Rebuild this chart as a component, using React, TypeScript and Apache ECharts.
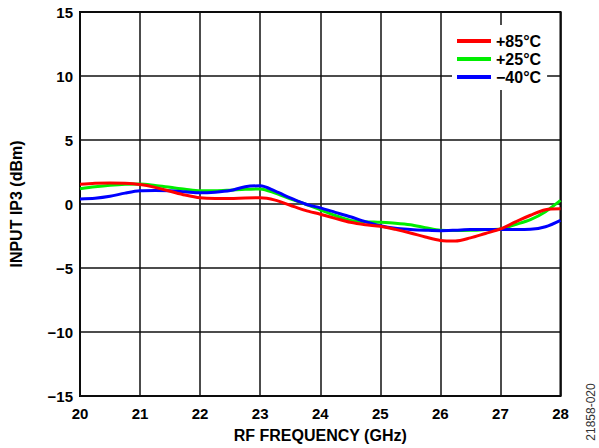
import React, { useEffect, useRef } from "react";
import * as echarts from "echarts";

const freqs = [20, 20.25, 20.5, 20.75, 21, 21.25, 21.5, 21.75, 22, 22.25, 22.5, 22.75, 23, 23.25, 23.5, 23.75, 24, 24.25, 24.5, 24.75, 25, 25.25, 25.5, 25.75, 26, 26.25, 26.5, 26.75, 27, 27.25, 27.5, 27.75, 28];

const red85 = [1.55, 1.63, 1.65, 1.62, 1.52, 1.3, 1.0, 0.7, 0.48, 0.43, 0.43, 0.47, 0.48, 0.3, -0.1, -0.5, -0.8, -1.12, -1.43, -1.62, -1.74, -1.98, -2.26, -2.58, -2.85, -2.9, -2.65, -2.3, -1.95, -1.4, -0.88, -0.45, -0.37];
const green25 = [1.2, 1.35, 1.47, 1.55, 1.57, 1.45, 1.3, 1.15, 1.03, 1.03, 1.08, 1.15, 1.18, 0.85, 0.4, 0.0, -0.45, -0.9, -1.28, -1.38, -1.43, -1.5, -1.62, -1.85, -2.06, -2.08, -2.06, -2.0, -1.95, -1.6, -1.22, -0.6, 0.28];
const blue40 = [0.4, 0.45, 0.6, 0.85, 1.03, 1.05, 1.03, 0.95, 0.87, 0.92, 1.05, 1.35, 1.42, 1.0, 0.48, 0.0, -0.3, -0.65, -1.0, -1.38, -1.7, -1.9, -1.99, -2.05, -2.09, -2.05, -1.99, -2.0, -2.0, -2.0, -1.98, -1.78, -1.28];

const seriesNames = ["+85°C", "+25°C", "\u221240°C"];
const seriesColors = ["#ff0000", "#00ee00", "#0000ff"];
const xTicks = { min: 20, max: 28, interval: 1 };
const yTicks = { min: -15, max: 15, interval: 5 };

const FONT = "Liberation Sans, Arial, sans-serif";

export default function App() {
  const ref = useRef<HTMLDivElement>(null);
  useEffect(() => {
    if (!ref.current) return;
    const chart = echarts.init(ref.current, undefined, { renderer: "svg" });
    const pair = (ys: number[]) => freqs.map((f, i) => [f, ys[i]]);
    const mk = (idx: number, ys: number[]) => ({
      name: seriesNames[idx],
      type: "line",
      data: pair(ys),
      smooth: 0.3,
      symbol: "none",
      lineStyle: { width: 3, color: seriesColors[idx] },
      itemStyle: { color: seriesColors[idx] },
    });
    const fmt = (v: number) => (v < 0 ? "\u2212" + Math.abs(v) : String(v));
    chart.setOption({
      animation: false,
      grid: {
        left: 79,
        right: 38.5,
        top: 12,
        bottom: 51,
        show: true,
        borderColor: "#000",
        borderWidth: 2,
        backgroundColor: "#fff",
      },
      legend: {
        orient: "vertical",
        left: 452,
        top: 25,
        backgroundColor: "#fff",
        padding: [8, 6, 5, 5],
        itemGap: 2,
        itemWidth: 34,
        itemHeight: 4,
        icon: "rect",
        data: seriesNames,
        textStyle: { fontFamily: FONT, fontWeight: "bold", fontSize: 16, color: "#000" },
      },
      xAxis: {
        type: "value",
        min: xTicks.min,
        max: xTicks.max,
        interval: xTicks.interval,
        name: "RF FREQUENCY (GHz)",
        nameLocation: "middle",
        nameGap: 31,
        nameTextStyle: { fontFamily: FONT, fontWeight: "bold", fontSize: 16, color: "#000" },
        axisLine: { show: false },
        axisTick: { show: false },
        axisLabel: { fontFamily: FONT, fontWeight: "bold", fontSize: 15, color: "#000", margin: 10, formatter: fmt },
        splitLine: { show: true, lineStyle: { color: "#111", width: 1.5 } },
      },
      yAxis: {
        type: "value",
        min: yTicks.min,
        max: yTicks.max,
        interval: yTicks.interval,
        name: "INPUT IP3 (dBm)",
        nameLocation: "middle",
        nameGap: 56,
        nameTextStyle: { fontFamily: FONT, fontWeight: "bold", fontSize: 16, color: "#000" },
        axisLine: { show: false },
        axisTick: { show: false },
        axisLabel: { fontFamily: FONT, fontWeight: "bold", fontSize: 15, color: "#000", margin: 7, formatter: fmt },
        splitLine: { show: true, lineStyle: { color: "#111", width: 1.5 } },
      },
      graphic: [
        {
          type: "text",
          x: 591,
          y: 412,
          rotation: Math.PI / 2,
          style: {
            text: "21858-020",
            fontFamily: FONT,
            fontSize: 12,
            fill: "#333",
            align: "center",
            verticalAlign: "middle",
          },
        },
      ],
      series: [mk(1, green25), mk(2, blue40), mk(0, red85)],
    });
    return () => chart.dispose();
  }, []);
  return <div ref={ref} style={{ position: "absolute", left: 0, top: 0, width: 599, height: 448 }} />;
}
